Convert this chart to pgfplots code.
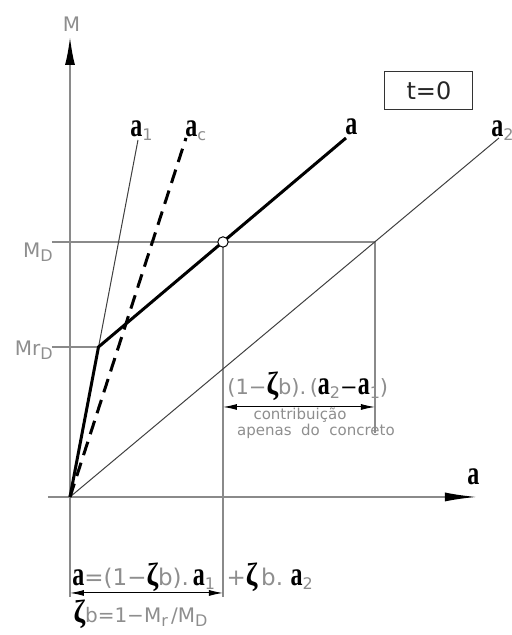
\documentclass[border=0pt]{standalone}
\usepackage{pgfplots}
\pgfplotsset{compat=1.18}
\usepackage{fontspec}
\setmainfont{DejaVu Sans}
\newfontfamily\serifb{Liberation Serif}
\usetikzlibrary{arrows.meta}
\definecolor{axisgray}{HTML}{8A8A8A}
\definecolor{txtgray}{HTML}{8E8E8E}
\newcommand{\va}{{\serifb\bfseries\color{black}\fontsize{12}{12}\selectfont\scalebox{1}[1.4]{a}}}
\newcommand{\zb}{{\serifb\bfseries\color{black}\fontsize{14}{14}\selectfont\scalebox{1}[1.15]{ζ}}}
\newcommand{\sub}[1]{\raisebox{-0.35ex}{\fontsize{8}{8}\selectfont #1}}

\begin{document}
\begin{tikzpicture}
\begin{axis}[
  scale only axis, width=256pt, height=317.5pt,
  xmin=-70, xmax=442, ymin=-138, ymax=497,
  hide axis, clip=false]
% frame of the drawing area
\addplot[draw=none] coordinates {(-70,-138) (442,497)};

% axes
\addplot[axisgray, line width=0.9pt, -{Latex[length=14pt,width=5pt,black]}] coordinates {(0,-100) (0,460)};
\addplot[axisgray, line width=0.9pt, -{Latex[length=16pt,width=4.5pt,black]}] coordinates {(-22,0) (407,0)};

% guide lines at M_D and Mr_D
\addplot[axisgray, line width=0.7pt] coordinates {(-18,255) (305,255) (305,64)};
\addplot[axisgray, line width=0.7pt] coordinates {(-18,150) (28.5,150)};
\addplot[axisgray, line width=0.7pt] coordinates {(153,255) (153,-100)};

% stiffness lines
\addplot[black!75, line width=0.5pt] coordinates {(0,0) (429,359)};
\addplot[black!75, line width=0.5pt] coordinates {(0,0) (68,357)};
\addplot[black, line width=1.5pt, dash pattern=on 7pt off 4pt] coordinates {(0,0) (116,359)};
\addplot[black, line width=1.5pt] coordinates {(0,0) (28.5,150) (276,359)};
\addplot[only marks, mark=*, mark size=2.6pt, mark options={fill=white, draw=black, line width=0.5pt}] coordinates {(153,255)};

% dimension lines
\addplot[black, line width=0.5pt, {Latex[length=7pt,width=3pt]}-{Latex[length=7pt,width=3pt]}] coordinates {(153,90) (305,90)};
\addplot[black, line width=0.5pt, {Latex[length=7pt,width=3pt]}-{Latex[length=7pt,width=3pt]}] coordinates {(0,-96) (153,-96)};

% labels
\node[txtgray, font=\fontsize{10}{10}\selectfont] at (1.5,472.5) {M};
\node[txtgray, font=\fontsize{10}{10}\selectfont, anchor=north east, inner sep=0pt] at (-17,254) {M\sub{D}};
\node[txtgray, font=\fontsize{10}{10}\selectfont, anchor=north east, inner sep=0pt] at (-17,156) {Mr\sub{D}};

\node[anchor=base west, inner sep=0pt] at (60,360) {\va\sub{\color{txtgray}1}};
\node[anchor=base west, inner sep=0pt] at (115,360) {\va\sub{\color{txtgray}c}};
\node[anchor=base west, inner sep=0pt] at (275,362) {\va};
\node[anchor=base west, inner sep=0pt, overlay] at (421,360) {\va\sub{\color{txtgray}2}};
\node[anchor=base west, inner sep=0pt] at (397,12) {\va};

\node[draw=black!80, line width=0.5pt, minimum width=44pt, minimum height=19pt, font=\fontsize{12}{12}\selectfont, text=black!85] at (359,406) {t=0};

\node[txtgray, font=\fontsize{10.5}{10}\selectfont, anchor=west, inner sep=0pt] at (157,111) {(1−\zb b).\,(\va\sub{2}{\color{black}−}\va\sub{1})};
\node[txtgray, font=\fontsize{7.5}{8}\selectfont, inner sep=0pt] at (230,81.5) {contribuição};
\node[txtgray, font=\fontsize{7.5}{8}\selectfont, inner sep=0pt] at (246,66) {apenas\ \ do\ \ concreto};

\node[txtgray, font=\fontsize{11.5}{10}\selectfont, anchor=west, inner sep=0pt] at (2,-80) {\va=(1−\zb b).\,\va\sub{1}\,\,\,+\zb\,b.\,\,\va\sub{2}};
\node[txtgray, font=\fontsize{10}{10}\selectfont] at (70.5,-117) {\zb b=1−M\sub{r}\,/M\sub{D}};
\end{axis}
\end{tikzpicture}
\end{document}
